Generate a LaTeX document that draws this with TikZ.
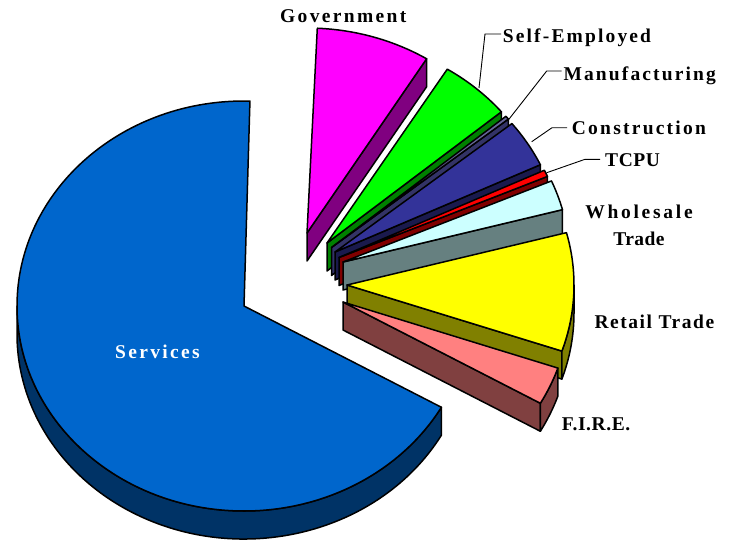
\documentclass[tikz,border=0pt]{standalone}
\usepackage{fontspec}
\setmainfont{Liberation Serif}
\usetikzlibrary{calc}
\definecolor{svcT}{HTML}{0066CC}\definecolor{svcS}{HTML}{003366}
\definecolor{govT}{HTML}{FF00FF}\definecolor{govS}{HTML}{800080}
\definecolor{seT}{HTML}{00FF00}\definecolor{seS}{HTML}{008000}
\definecolor{manT}{HTML}{666699}\definecolor{manS}{HTML}{333366}
\definecolor{conT}{HTML}{333399}\definecolor{conS}{HTML}{1A1A4D}
\definecolor{tcpuT}{HTML}{FF0000}\definecolor{tcpuS}{HTML}{800000}
\definecolor{whT}{HTML}{CCFFFF}\definecolor{whS}{HTML}{668080}
\definecolor{retT}{HTML}{FFFF00}\definecolor{retS}{HTML}{808000}
\definecolor{fireT}{HTML}{FF8080}\definecolor{fireS}{HTML}{804040}
\newcommand\lblfont{\bfseries\fontsize{19.5}{27}\selectfont}
\newcommand\pieTop[4]{\filldraw[face,fill=#4] (#1) -- ++(#2:227pt and 205pt) arc[start angle=#2,end angle=#3,x radius=227pt,y radius=205pt] -- cycle;}
\newcommand\pieRadial[3]{\filldraw[face,fill=#3] (#1) -- ++(#2:227pt and 205pt) -- ++(0,-28) -- ($(#1)+(0,-28)$) -- cycle;}
\newcommand\pieCurved[4]{\filldraw[face,fill=#4] ($(#1)+(#2:227pt and 205pt)$) arc[start angle=#2,end angle=#3,x radius=227pt,y radius=205pt] -- ++(0,-28) arc[start angle=#3,end angle=#2,x radius=227pt,y radius=205pt] -- cycle;}
\tikzset{
  face/.style={draw=black,line width=1.5pt,line join=round},
  leader/.style={draw=black,line width=0.9pt},
  lbl/.style={anchor=base west,inner sep=0pt,font=\lblfont\addfontfeature{LetterSpace=#1}},
  lbl/.default=11
}
\begin{document}
\begin{tikzpicture}[x=1pt,y=1pt]
\useasboundingbox (0,0) rectangle (736,-542);
% apexes
\coordinate (gov) at (307,-233);
\coordinate (se) at (327,-243);
\coordinate (man) at (331.5,-247.5);
\coordinate (con) at (335,-252);
\coordinate (tcpu) at (339,-257.5);
\coordinate (wh) at (343,-262);
\coordinate (ret) at (347,-285);
\coordinate (fire) at (343,-302);
\coordinate (svc) at (244,-306);
% Services
\pieCurved{svc}{180}{330.4}{svcS}
\pieTop{svc}{88.5}{330.4}{svcT}
% Government
\pieRadial{gov}{58.2}{govS}
\pieTop{gov}{58.2}{87.4}{govT}
% Self-Employed
\pieRadial{se}{39.8}{seS}
\pieTop{se}{39.8}{58}{seT}
% Manufacturing
\pieRadial{man}{38.8}{manS}
\pieTop{man}{38.8}{39.8}{manT}
% Construction
\pieRadial{con}{25.2}{conS}
\pieTop{con}{25.2}{38.8}{conT}
% TCPU
\pieRadial{tcpu}{23.3}{tcpuS}
\pieTop{tcpu}{23.3}{25.2}{tcpuT}
% Wholesale
\pieRadial{wh}{14.8}{whS}
\pieTop{wh}{14.8}{23.3}{whT}
% Retail
\pieRadial{ret}{-18.8}{retS}
\pieCurved{ret}{-18.8}{0}{retS}
\pieTop{ret}{-18.8}{14.8}{retT}
% FIRE
\pieRadial{fire}{-29.6}{fireS}
\pieCurved{fire}{-29.6}{-18.8}{fireS}
\pieTop{fire}{-29.6}{-18.8}{fireT}
% labels
\node[lbl=12] (govL) at (280,-22.3) {Government};
\node[lbl=11] (seL) at (502.7,-42.5) {Self-Employed};
\node[lbl=11] (manL) at (563.3,-80) {Manufacturing};
\node[lbl=11.5] (conL) at (571.7,-134.5) {Construction};
\node[lbl=3] (tcpuL) at (605,-166.3) {TCPU};
\node[inner sep=0pt,align=center,anchor=north,font=\lblfont] (whL) at (639,-204.8) {{\addfontfeature{LetterSpace=14}Wholesale}\\{\addfontfeature{LetterSpace=2}Trade}};
\node[lbl=8] (retL) at (594.3,-328) {Retail Trade};
\node[lbl=3] (fireL) at (561.7,-430) {F.I.R.E.};
\node[lbl=12,text=white] (svcL) at (115,-358.5) {Services};
% leaders
\coordinate (seA) at (501,-34);\coordinate (seB) at (485,-34);\coordinate (seC) at (479,-88);
\coordinate (manA) at (561.7,-71);\coordinate (manB) at (546.7,-71);\coordinate (manC) at (508.3,-120);
\coordinate (conA) at (567,-127.7);\coordinate (conB) at (552,-127.7);\coordinate (conC) at (531.7,-141.7);
\coordinate (tcpuA) at (600,-159.3);\coordinate (tcpuB) at (585,-159.3);\coordinate (tcpuC) at (546.7,-172.7);
\draw[leader] (seA) -- (seB) -- (seC);
\draw[leader] (manA) -- (manB) -- (manC);
\draw[leader] (conA) -- (conB) -- (conC);
\draw[leader] (tcpuA) -- (tcpuB) -- (tcpuC);
\end{tikzpicture}
\end{document}
